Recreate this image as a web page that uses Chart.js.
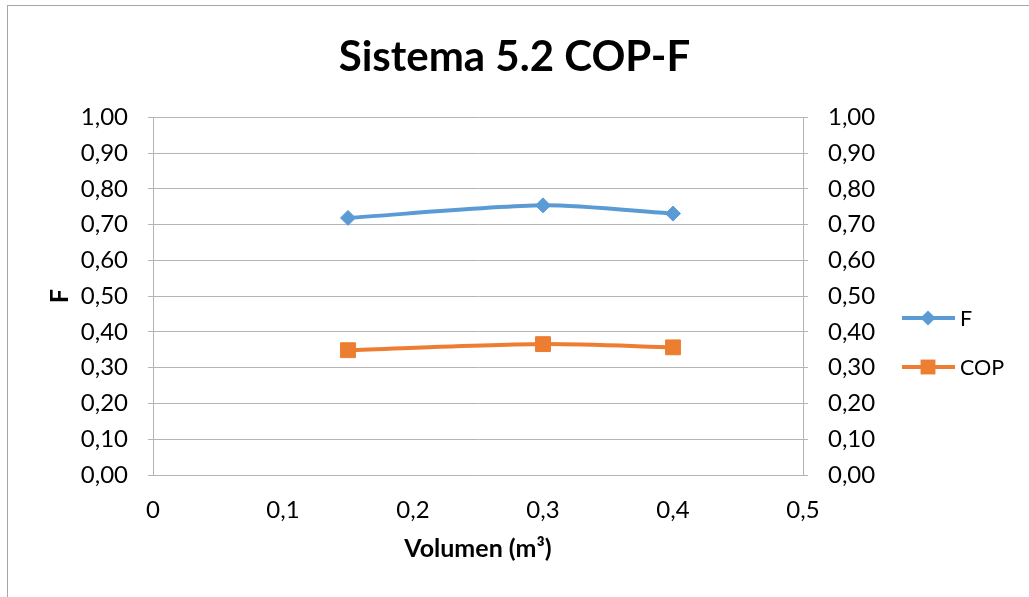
<!DOCTYPE html>
<html>
<head>
<meta charset="utf-8">
<script src="https://cdn.jsdelivr.net/npm/chart.js@4/dist/chart.umd.min.js"></script>
<style>
    html, body { margin: 0; padding: 0; background: #fff; overflow: hidden; }
    #frame {
        position: absolute; left: 7px; top: 5px; width: 1100px; height: 700px;
        border: 1px solid #a6a6a6; box-sizing: border-box;
    }
    #wrap { position: absolute; left: 0; top: 0; width: 1029px; height: 597px; }
</style>
</head>
<body>
<div id="frame"></div>
<div id="wrap"><canvas id="cop_f_chart" width="1029" height="597"></canvas></div>
<script>
    const volumen = [0.15, 0.3, 0.4];
    const fValues = [0.719, 0.754, 0.731];
    const copValues = [0.349, 0.366, 0.357];
    const seriesNames = ['F', 'COP'];

    const fontFamily = 'Lato, "Liberation Sans", sans-serif';
    const gridColor = '#b4b4b4';

    const toPoints = (ys) => volumen.map((x, i) => ({x: x, y: ys[i]}));
    const comma = (v, digits) => v.toFixed(digits).replace('.', ',');

    // legend on the right: line sample with marker, then the name
    const sideLegend = {
        id: 'sideLegend',
        afterDraw(chart) {
            const ctx = chart.ctx;
            const rows = [318, 367];
            chart.data.datasets.forEach((ds, i) => {
                const y = rows[i];
                ctx.save();
                ctx.strokeStyle = ds.borderColor;
                ctx.lineWidth = ds.borderWidth;
                ctx.beginPath();
                ctx.moveTo(902, y);
                ctx.lineTo(955, y);
                ctx.stroke();
                ctx.fillStyle = ds.borderColor;
                ctx.beginPath();
                if (ds.pointStyle === 'rectRot') {
                    const r = ds.pointRadius;
                    ctx.moveTo(928, y - r);
                    ctx.lineTo(928 + r, y);
                    ctx.lineTo(928, y + r);
                    ctx.lineTo(928 - r, y);
                    ctx.closePath();
                } else {
                    const s = ds.pointRadius * Math.SQRT1_2;
                    ctx.rect(928 - s, y - s, 2 * s, 2 * s);
                }
                ctx.fill();
                ctx.fillStyle = '#000';
                ctx.font = '21.5px ' + fontFamily;
                ctx.textBaseline = 'middle';
                ctx.textAlign = 'left';
                ctx.fillText(ds.label, 960, y + 1);
                ctx.restore();
            });
        }
    };

    const ctx = document.getElementById('cop_f_chart').getContext('2d');
    const copChart = new Chart(ctx, {
        type: 'line',
        data: {
            datasets: [{
                label: seriesNames[0],
                data: toPoints(fValues),
                borderColor: '#5b9bd5',
                backgroundColor: '#5b9bd5',
                borderWidth: 4,
                pointStyle: 'rectRot',
                pointRadius: 7.5,
                pointBorderWidth: 1,
                tension: 0.25,
                yAxisID: 'y'
            }, {
                label: seriesNames[1],
                data: toPoints(copValues),
                borderColor: '#ed7d31',
                backgroundColor: '#ed7d31',
                borderWidth: 4,
                pointStyle: 'rect',
                pointRadius: 10.5,
                pointBorderWidth: 1,
                tension: 0.25,
                yAxisID: 'y'
            }]
        },
        options: {
            responsive: false,
            animation: false,
            layout: {padding: 0},
            scales: {
                x: {
                    type: 'linear',
                    min: 0,
                    max: 0.5,
                    ticks: {
                        stepSize: 0.1,
                        padding: 21,
                        color: '#000',
                        font: {family: fontFamily, size: 24},
                        callback: (v) => v === 0 ? '0' : comma(v, 1)
                    },
                    grid: {display: false, drawTicks: false},
                    border: {display: true, color: gridColor},
                    title: {
                        display: true,
                        text: 'Volumen (m³)',
                        color: '#000',
                        font: {family: fontFamily, size: 25, weight: 'bold'},
                        padding: {top: 0, bottom: 33}
                    },
                    afterFit: (scale) => { scale.height = 122; }
                },
                y: {
                    position: 'left',
                    min: 0,
                    max: 1,
                    ticks: {
                        stepSize: 0.1,
                        padding: 20,
                        color: '#000',
                        font: {family: fontFamily, size: 24},
                        callback: (v) => comma(v, 2)
                    },
                    grid: {color: gridColor, tickLength: 5},
                    border: {display: true, color: gridColor},
                    title: {
                        display: true,
                        text: 'F',
                        color: '#000',
                        font: {family: fontFamily, size: 25, weight: 'bold'},
                        padding: {top: 45, bottom: 0}
                    },
                    afterFit: (scale) => { scale.width = 153; }
                },
                y2: {
                    position: 'right',
                    min: 0,
                    max: 1,
                    ticks: {
                        stepSize: 0.1,
                        padding: 20,
                        color: '#000',
                        font: {family: fontFamily, size: 24},
                        callback: (v) => comma(v, 2)
                    },
                    grid: {drawOnChartArea: false, color: gridColor, tickLength: 5},
                    border: {display: true, color: gridColor},
                    afterFit: (scale) => { scale.width = 226; }
                }
            },
            plugins: {
                legend: {display: false},
                tooltip: {enabled: false},
                title: {
                    display: true,
                    text: 'Sistema 5.2 COP-F',
                    color: '#000',
                    font: {family: fontFamily, size: 42, weight: 'bold'},
                    padding: {top: 32, bottom: 35}
                }
            }
        },
        plugins: [sideLegend]
    });
</script>
</body>
</html>
